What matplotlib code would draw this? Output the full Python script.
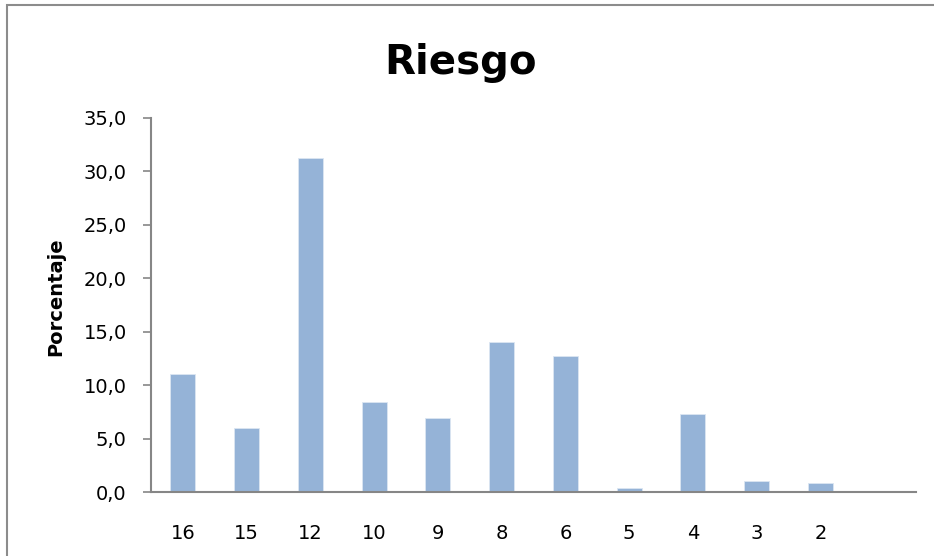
import matplotlib
matplotlib.use("Agg")
import matplotlib.pyplot as plt
from matplotlib.patches import Rectangle

categories = ["16", "15", "12", "10", "9", "8", "6", "5", "4", "3", "2", ""]
values = [11.05, 6.0, 31.2, 8.45, 6.97, 14.05, 12.74, 0.43, 7.35, 1.03, 0.84, 0.0]
yticks = [0, 5, 10, 15, 20, 25, 30, 35]
ytick_labels = ["0,0", "5,0", "10,0", "15,0", "20,0", "25,0", "30,0", "35,0"]

plt.rcParams['font.family'] = ['DejaVu Sans']

W, H = 934, 556
fig = plt.figure(figsize=(W / 100, H / 100), dpi=100)
fig.patch.set_facecolor("white")

# outer chart frame
fig.add_artist(Rectangle((7 / W, -0.1), 1.2, 1 - 5 / H + 0.1, transform=fig.transFigure,
                         fill=False, edgecolor="#8c8c8c", linewidth=1.5))

ax = fig.add_axes([151 / W, 1 - 492.3 / H, (916 - 151) / W, (492.3 - 117.7) / H])
x = list(range(len(categories)))
ax.bar(x, values, width=0.39, color="#95B3D7", edgecolor="#dce6f2", linewidth=0.6)

ax.set_xlim(-0.5, len(categories) - 0.5)
ax.set_ylim(0, 35)
ax.set_yticks(yticks)
ax.set_yticklabels(ytick_labels)
ax.set_xticks(x)
ax.set_xticklabels(categories)

for s in ["top", "right"]:
    ax.spines[s].set_visible(False)
for s in ["left", "bottom"]:
    ax.spines[s].set_color("#868686")
    ax.spines[s].set_linewidth(1.5)

ax.tick_params(axis="y", direction="out", length=5.5, width=1.2, color="#868686",
               labelsize=14, pad=12, labelcolor="black")
ax.tick_params(axis="x", length=0, labelsize=14, pad=23, labelcolor="black")

fig.text(56 / W, 1 - 296.5 / H, "Porcentaje", rotation=90, ha="center", va="center",
         fontsize=14, fontweight="bold")
fig.text(461 / W, 1 - 74 / H, "Riesgo", ha="center", va="baseline",
         fontsize=29, fontweight="bold")

fig.savefig("out.png", dpi=100)
